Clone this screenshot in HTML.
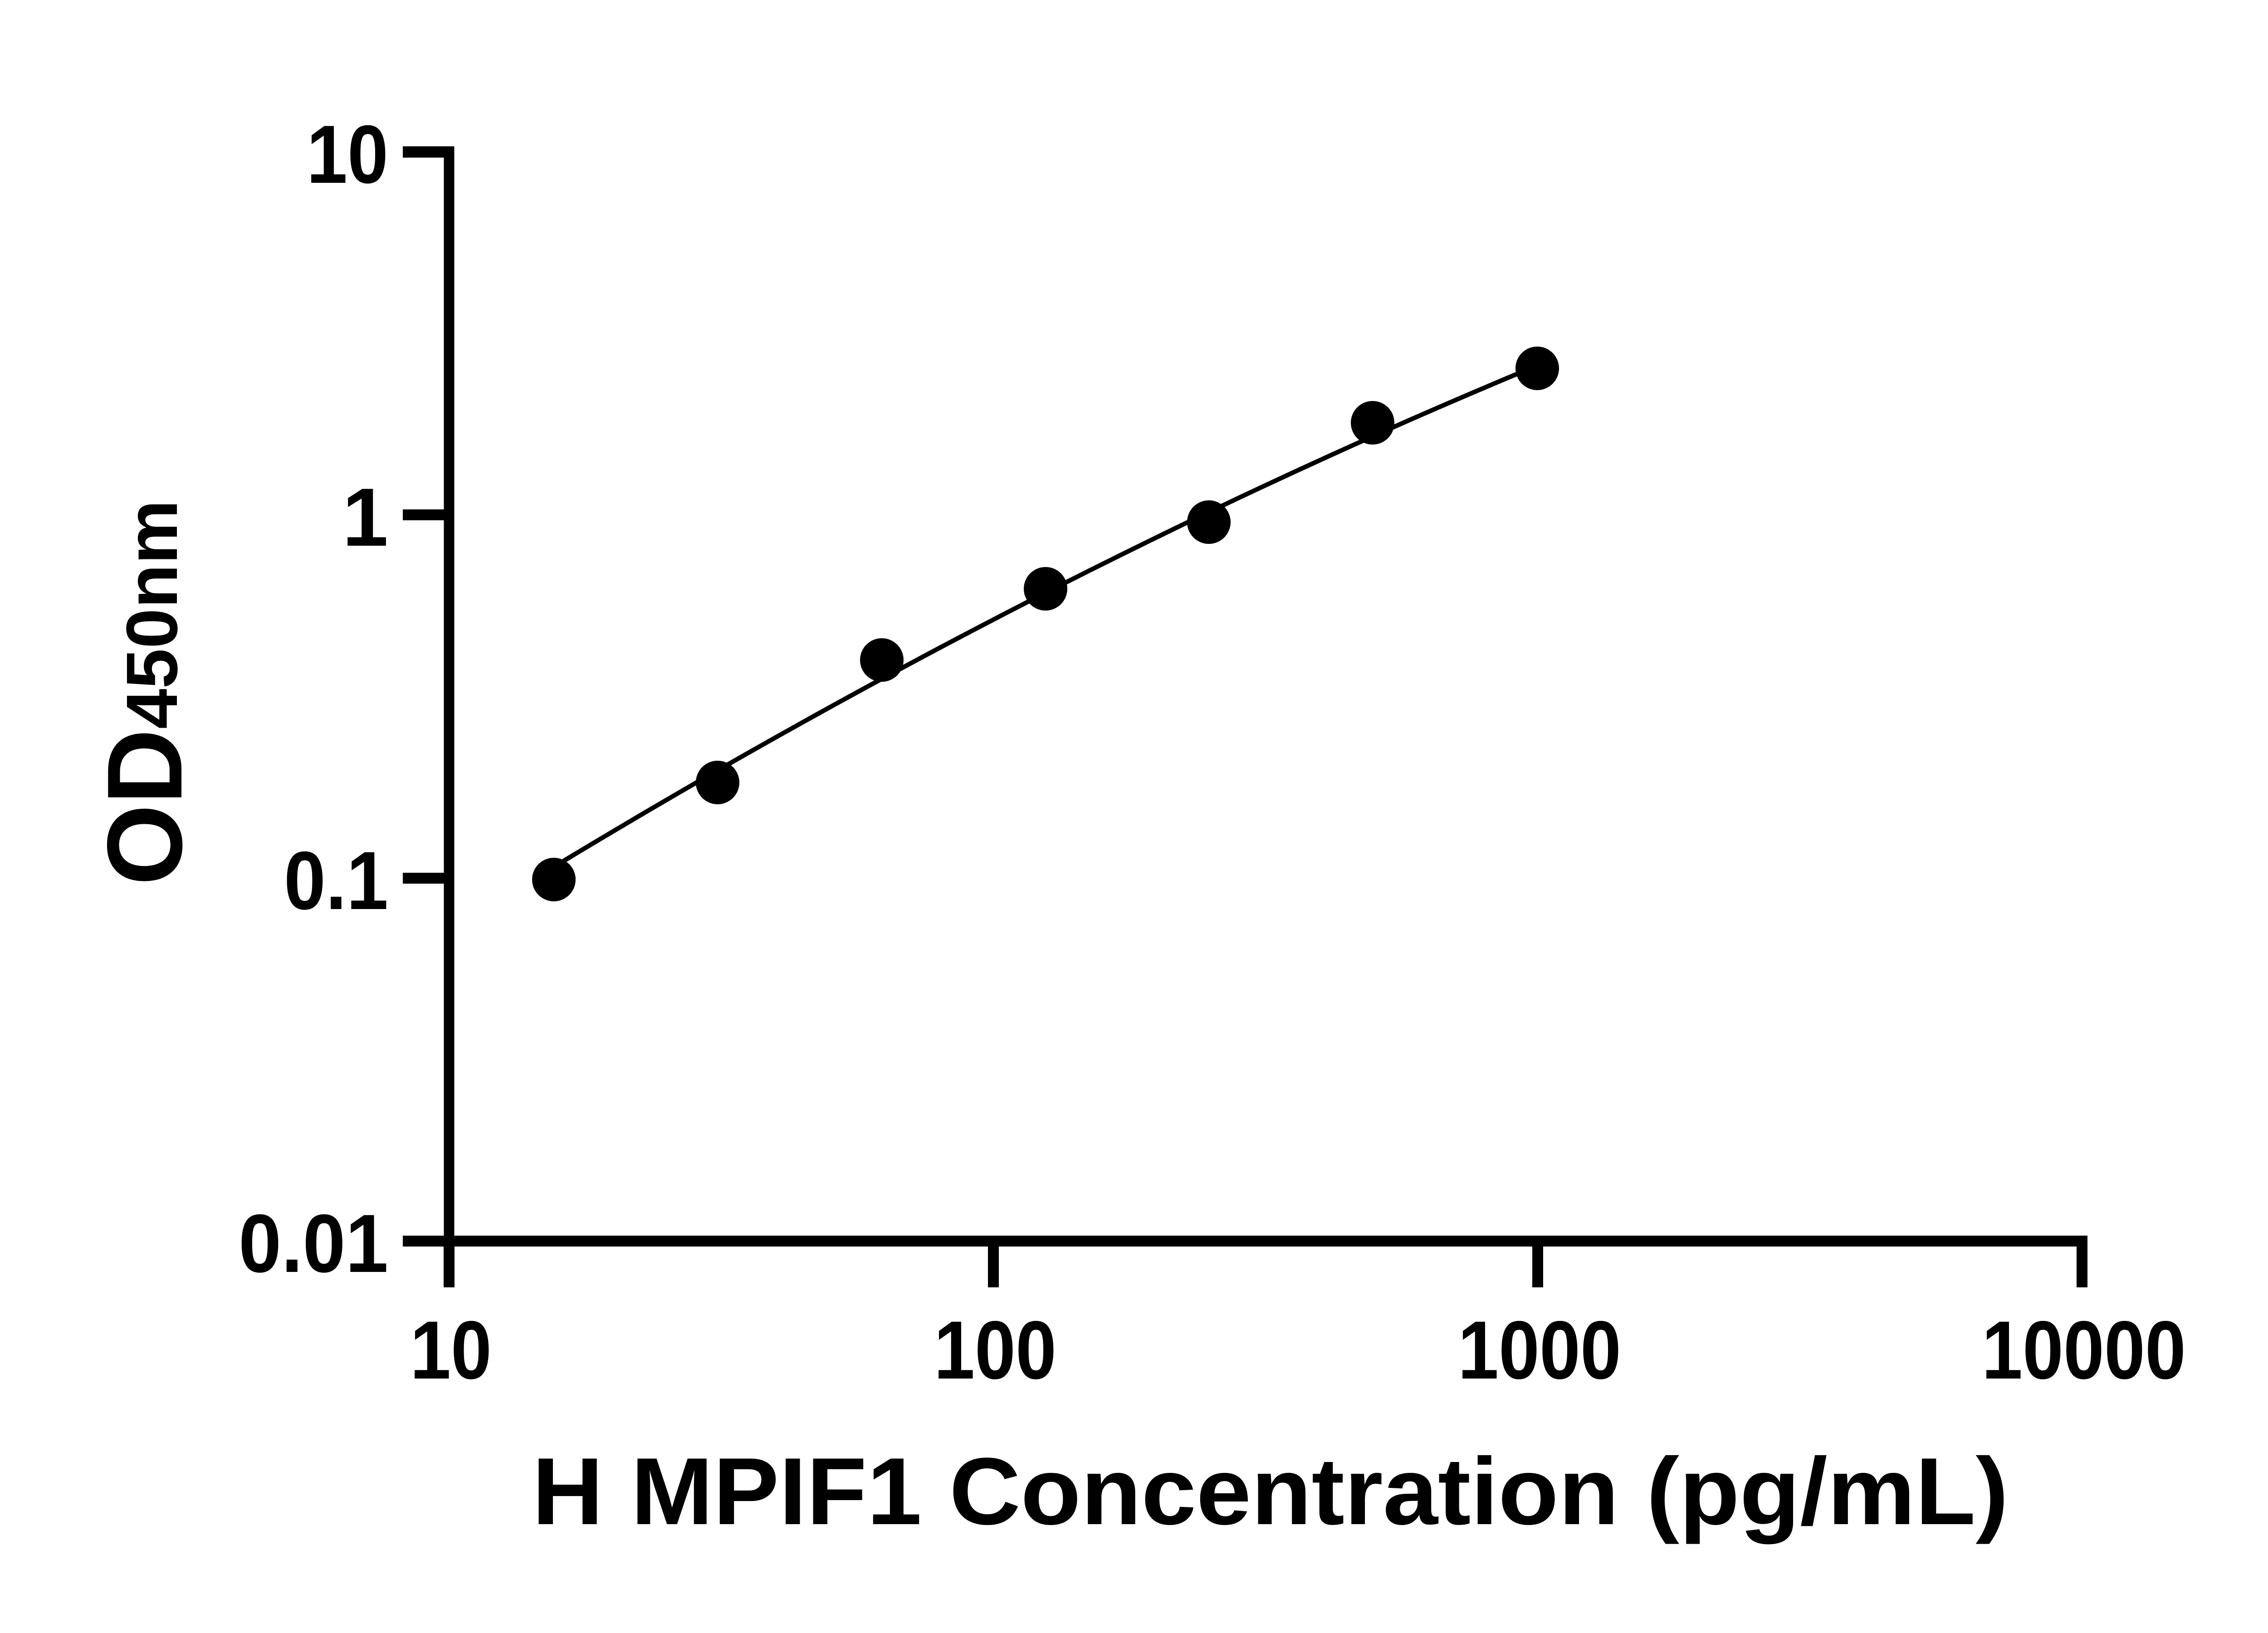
<!DOCTYPE html>
<html><head><meta charset="utf-8"><style>html,body{margin:0;padding:0;background:#fff}svg{display:block}</style></head>
<body>
<svg width="5142" height="3600" viewBox="0 0 5142 3600" xmlns="http://www.w3.org/2000/svg">
<rect width="5142" height="3600" fill="#fff"/>
<g fill="none" stroke="#000" stroke-linecap="butt">
<line x1="990" y1="323" x2="990" y2="2748" stroke-width="23"/>
<line x1="888" y1="2736" x2="4602" y2="2736" stroke-width="24"/>
<line x1="888" y1="335" x2="1001" y2="335" stroke-width="25"/>
<line x1="888" y1="1135" x2="990" y2="1135" stroke-width="24"/>
<line x1="888" y1="1936" x2="990" y2="1936" stroke-width="24"/>
<line x1="990" y1="2736" x2="990" y2="2838" stroke-width="24"/>
<line x1="2190" y1="2736" x2="2190" y2="2838" stroke-width="24"/>
<line x1="3390" y1="2736" x2="3390" y2="2838" stroke-width="24"/>
<line x1="4590" y1="2736" x2="4590" y2="2838" stroke-width="24"/>
<path d="M1221,1911 Q2282,1269 3343,825 L3389,808" stroke-width="10"/>
</g>
<g fill="#000">
<ellipse cx="1221" cy="1939" rx="48" ry="48"/>
<ellipse cx="1582" cy="1725" rx="48" ry="48"/>
<ellipse cx="1944" cy="1455" rx="48" ry="48"/>
<ellipse cx="2305" cy="1298" rx="48" ry="48"/>
<ellipse cx="2665" cy="1151" rx="48" ry="48"/>
<ellipse cx="3026" cy="932" rx="48" ry="48"/>
<ellipse cx="3389" cy="812" rx="48" ry="48"/>
</g>
<g font-family="Liberation Sans, Arial, sans-serif" font-weight="bold" font-size="182" fill="#000">
<text x="856" y="403" text-anchor="end" textLength="180" lengthAdjust="spacingAndGlyphs">10</text>
<text x="856" y="1203" text-anchor="end">1</text>
<text x="856" y="2004" text-anchor="end" textLength="230" lengthAdjust="spacingAndGlyphs">0.1</text>
<text x="856" y="2804" text-anchor="end" textLength="330" lengthAdjust="spacingAndGlyphs">0.01</text>
<text x="994" y="3039" text-anchor="middle" textLength="180" lengthAdjust="spacingAndGlyphs">10</text>
<text x="2194" y="3039" text-anchor="middle" textLength="270" lengthAdjust="spacingAndGlyphs">100</text>
<text x="3394" y="3039" text-anchor="middle" textLength="360" lengthAdjust="spacingAndGlyphs">1000</text>
<text x="4594" y="3039" text-anchor="middle" textLength="450" lengthAdjust="spacingAndGlyphs">10000</text>
<text x="1173" y="3360" font-size="210" textLength="3255" lengthAdjust="spacingAndGlyphs">H MPIF1 Concentration (pg/mL)</text>
<g transform="translate(400,1952) rotate(-90)">
<text x="0" y="0" font-size="235" textLength="345" lengthAdjust="spacingAndGlyphs">OD</text>
<text x="345" y="-10" font-size="160" textLength="505" lengthAdjust="spacingAndGlyphs">450nm</text>
</g>
</g>
</svg>
</body></html>
